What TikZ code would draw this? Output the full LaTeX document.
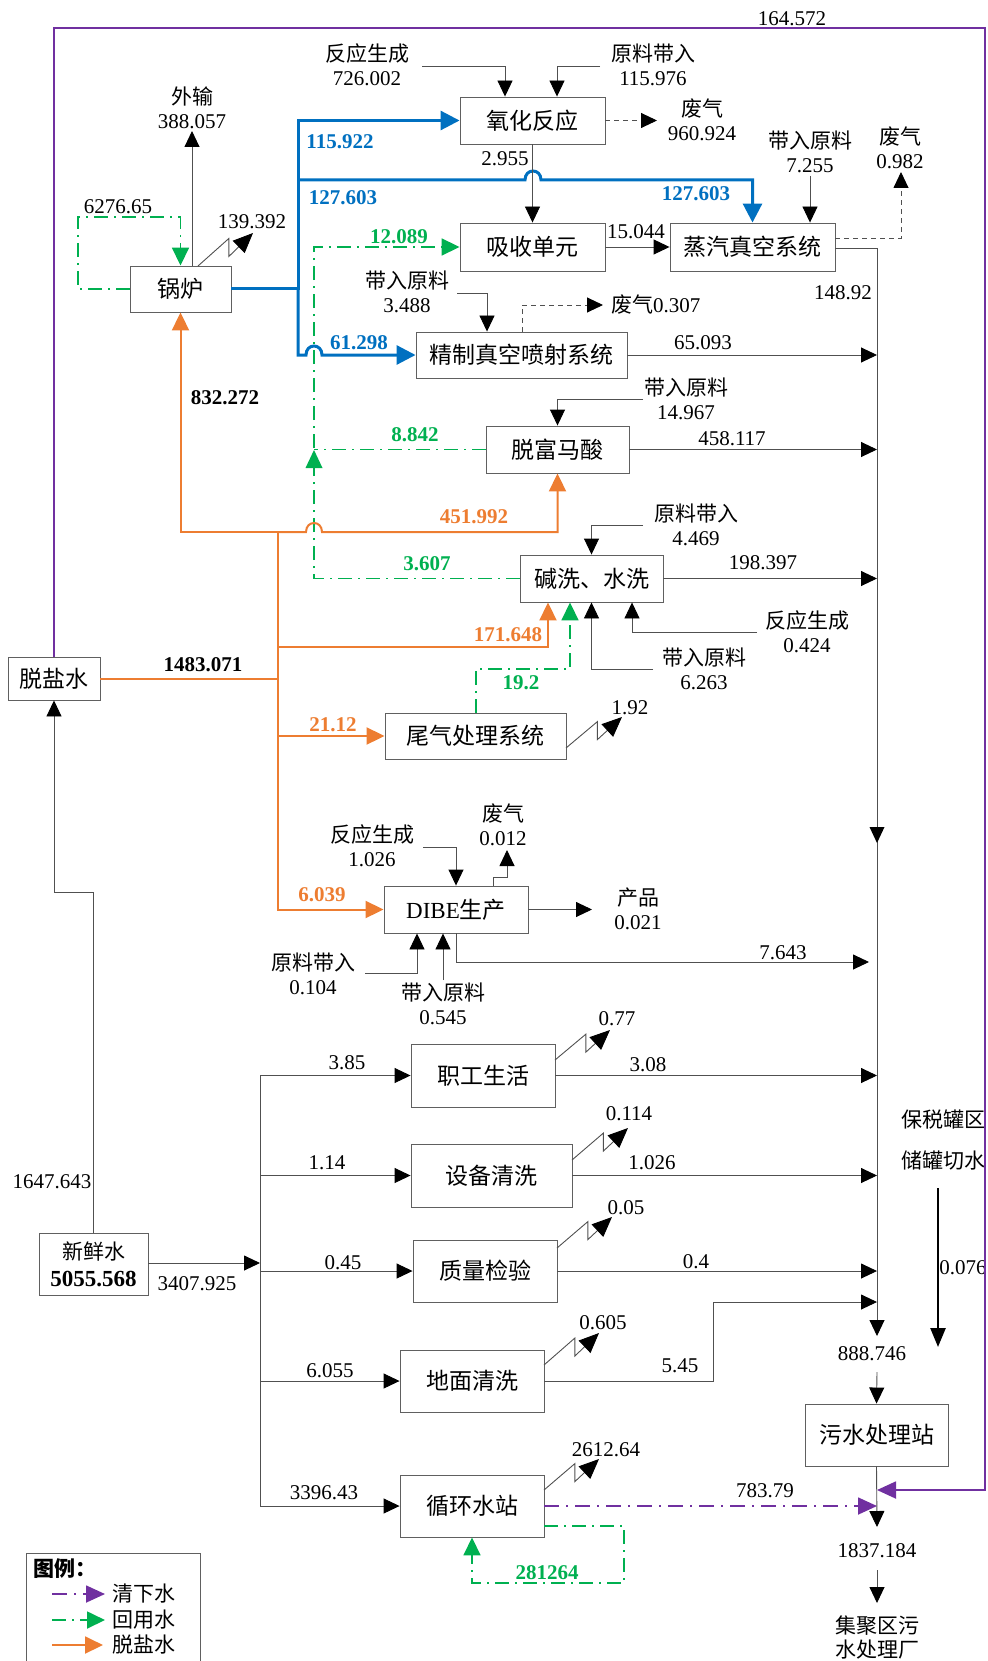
\documentclass[tikz,border=0pt]{standalone}
\usepackage{fontspec}
\setmainfont{Liberation Serif}
\newfontfamily\cjk{Noto Sans CJK SC}
\usetikzlibrary{arrows.meta,calc}
\definecolor{cblue}{HTML}{0070C0}
\definecolor{corange}{HTML}{ED7D31}
\definecolor{cgreen}{HTML}{00B050}
\definecolor{cpurple}{HTML}{7030A0}
\definecolor{linec}{HTML}{505050}
\definecolor{boxc}{HTML}{606060}
\newcommand\zh[1]{{\cjk #1}}
\newcommand\zz[2]{\draw[zig] (#1) -- ($(#1)!0.56!(#2)+(0,-9)$) -- ++(0,18) -- (#2);}
\begin{document}
\begin{tikzpicture}[x=1pt,y=-1pt,
  box/.style={draw=boxc, line width=0.9pt, inner sep=0pt, font=\fontsize{23}{27}\selectfont\cjk},
  lbl/.style={inner sep=0pt, align=center, font=\fontsize{21}{24}\selectfont},
  blab/.style={lbl, text=cblue, font=\fontsize{21}{24}\selectfont\bfseries},
  olab/.style={lbl, text=corange, font=\fontsize{21}{24}\selectfont\bfseries},
  glab/.style={lbl, text=cgreen, font=\fontsize{21}{24}\selectfont\bfseries},
  klab/.style={lbl, font=\fontsize{21}{24}\selectfont\bfseries},
  ln/.style={draw=linec, line width=0.9pt},
  ar/.style={ln, -{Triangle[length=16pt,width=15pt,color=black]}},
  dar/.style={ar, dash pattern=on 5pt off 4pt},
  zig/.style={ln, -{Triangle[length=20pt,width=17pt,color=black]}},
  blu/.style={draw=cblue, line width=3pt},
  bar/.style={blu, -{Triangle[length=19pt,width=19pt]}},
  org/.style={draw=corange, line width=2pt},
  oar/.style={org, -{Triangle[length=18pt,width=17pt]}},
  grn/.style={draw=cgreen, line width=1.8pt, dash pattern=on 14pt off 6pt on 2pt off 6pt},
  gar/.style={grn, -{Triangle[length=18pt,width=17pt]}},
  pur/.style={draw=cpurple, line width=1.8pt},
  par/.style={pur, -{Triangle[length=19pt,width=17pt]}},
  pdar/.style={par, dash pattern=on 15pt off 7pt on 2pt off 7pt},
]
\useasboundingbox (0,0) rectangle (987,1661);

% ---------- boxes ----------
\node[box, minimum width=101pt, minimum height=46pt] (gl) at (180.5,289) {锅炉};
\node[box, minimum width=145pt, minimum height=47pt] (yh) at (532.5,120.5) {氧化反应};
\node[box, minimum width=145pt, minimum height=48pt] (xs) at (532.5,247) {吸收单元};
\node[box, minimum width=165pt, minimum height=48pt] (zq) at (752.5,247) {蒸汽真空系统};
\node[box, minimum width=211pt, minimum height=46pt] (jz) at (521.5,355) {精制真空喷射系统};
\node[box, minimum width=143pt, minimum height=47pt] (tf) at (557.5,449.5) {脱富马酸};
\node[box, minimum width=143pt, minimum height=47pt] (jx) at (591.5,578.5) {碱洗、水洗};
\node[box, minimum width=181pt, minimum height=46pt] (wq) at (475.5,736) {尾气处理系统};
\node[box, minimum width=144pt, minimum height=47pt] (dibe) at (456,909.5) {{\rmfamily DIBE}生产};
\node[box, minimum width=92pt, minimum height=43pt] (tys) at (54,678.5) {脱盐水};
\node[box, minimum width=109pt, minimum height=62pt, align=center] (xxs) at (93.5,1264) {\fontsize{21}{27}\selectfont 新鲜水\\{\rmfamily\bfseries\fontsize{23}{27}\selectfont 5055.568}};
\node[box, minimum width=144pt, minimum height=63pt] (zg) at (483,1075.5) {职工生活};
\node[box, minimum width=161pt, minimum height=63pt] (sb) at (491.5,1175.5) {设备清洗};
\node[box, minimum width=144pt, minimum height=62pt] (zl) at (485,1271) {质量检验};
\node[box, minimum width=144pt, minimum height=62pt] (dm) at (472,1381) {地面清洗};
\node[box, minimum width=144pt, minimum height=62pt] (xh) at (472,1506) {循环水站};
\node[box, minimum width=143pt, minimum height=62pt] (ws) at (876.5,1435) {污水处理站};

% ---------- labels ----------
\node[lbl] (l164) at (792,19) {164.572};
\node[lbl] (l726) at (367,65) {\zh{反应生成}\\726.002};
\node[lbl] (l115976) at (653,65) {\zh{原料带入}\\115.976};
\node[lbl] (lws) at (192,108) {\zh{外输}\\388.057};
\node[lbl] (l6276) at (118,207) {6276.65};
\node[lbl] (l139) at (252,222) {139.392};
\node[blab] (l115922) at (340,142) {115.922};
\node[blab] (l127a) at (343,198) {127.603};
\node[blab] (l127b) at (696,194) {127.603};
\node[lbl] (l2955) at (505,159) {2.955};
\node[lbl] (l960) at (702,120) {\zh{废气}\\960.924};
\node[lbl] (l15044) at (636,232) {15.044};
\node[lbl] (l7255) at (810,152) {\zh{带入原料}\\7.255};
\node[lbl] (l0982) at (900,148) {\zh{废气}\\0.982};
\node[lbl] (l14892) at (843,293) {148.92};
\node[glab] (l12089) at (399,237) {12.089};
\node[lbl] (l3488) at (407,292) {\zh{带入原料}\\3.488};
\node[lbl, anchor=west] (l0307) at (611,305) {\zh{废气}0.307};
\node[blab] (l61298) at (359,343) {61.298};
\node[lbl] (l65093) at (703,343) {65.093};
\node[klab] (l832) at (225,398) {832.272};
\node[lbl] (l14967) at (686,399) {\zh{带入原料}\\14.967};
\node[glab] (l8842) at (415,435) {8.842};
\node[lbl] (l458) at (732,439) {458.117};
\node[olab] (l451) at (474,517) {451.992};
\node[lbl] (l4469) at (696,525) {\zh{原料带入}\\4.469};
\node[glab] (l3607) at (427,564) {3.607};
\node[lbl] (l198) at (763,563) {198.397};
\node[lbl] (l0424) at (807,632) {\zh{反应生成}\\0.424};
\node[olab] (l171) at (508,635) {171.648};
\node[lbl] (l6263) at (704,669) {\zh{带入原料}\\6.263};
\node[klab] (l1483) at (203,665) {1483.071};
\node[glab] (l192) at (521,683) {19.2};
\node[lbl] (l1p92) at (630,708) {1.92};
\node[olab] (l2112) at (333,725) {21.12};
\node[lbl] (l0012) at (503,825) {\zh{废气}\\0.012};
\node[lbl] (l1026) at (372,846) {\zh{反应生成}\\1.026};
\node[olab] (l6039) at (322,895) {6.039};
\node[lbl] (l0021) at (638,909) {\zh{产品}\\0.021};
\node[lbl] (l7643) at (783,953) {7.643};
\node[lbl] (l0104) at (313,974) {\zh{原料带入}\\0.104};
\node[lbl] (l0545) at (443,1004) {\zh{带入原料}\\0.545};
\node[lbl] (l077) at (617,1019) {0.77};
\node[lbl] (l385) at (347,1063) {3.85};
\node[lbl] (l308) at (648,1065) {3.08};
\node[lbl] (l0114) at (629,1114) {0.114};
\node[lbl] (lbs1) at (943,1120) {\zh{保税罐区}};
\node[lbl] (lbs2) at (943,1160) {\zh{储罐切水}};
\node[lbl] (l114) at (327,1163) {1.14};
\node[lbl] (l1026b) at (652,1163) {1.026};
\node[lbl] (l1647) at (52,1182) {1647.643};
\node[lbl] (l005) at (626,1208) {0.05};
\node[lbl] (l045) at (343,1263) {0.45};
\node[lbl] (l04) at (696,1262) {0.4};
\node[lbl] (l0076) at (963,1268) {0.076};
\node[lbl] (l3407) at (197,1284) {3407.925};
\node[lbl] (l0605) at (603,1323) {0.605};
\node[lbl] (l888) at (872,1354) {888.746};
\node[lbl] (l6055) at (330,1371) {6.055};
\node[lbl] (l545) at (680,1366) {5.45};
\node[lbl] (l2612) at (606,1450) {2612.64};
\node[lbl] (l783) at (765,1491) {783.79};
\node[lbl] (l3396) at (324,1493) {3396.43};
\node[lbl] (l1837) at (877,1551) {1837.184};
\node[lbl] (ljj) at (877,1637) {\zh{集聚区污}\\\zh{水处理厂}};
\node[glab] (l281) at (547,1573) {281264};

% ---------- purple frame ----------
\draw[par] (tys.north) -- (54,28) -- (985,28) -- (985,1490) -- (877,1490);

% ---------- blue ----------
\draw[blu] (gl.east) -- (298,289);
\draw[bar] (298,290) -- (298,120.5) -- (yh.west);
\draw[bar] (298,180) -- (525,180) .. controls (525,168) and (541,168) .. (541,180) -| (zq.north);
\draw[bar] (298,288) -- (298,355) -- (306,355) .. controls (306,343) and (322,343) .. (322,355) -- (jz.west);

% ---------- green ----------
\draw[gar] (gl.west) -- (78,289) -- (78,217) -| (gl.north);
\draw[gar] (jx.west) -- (314,578.5) -- (314,247) -- (xs.west);
\fill[cgreen] (314,450) -- (305.5,468) -- (322.5,468) -- cycle;
\draw[grn] (tf.west) -- (314,449.5);
\draw[gar] ([shift={(0.5,0)}]wq.north) -- (476,669) -| ([shift={(-21.5,0)}]jx.south);
\draw[gar] ([shift={(0,20)}]xh.east) -- (624,1526) -- (624,1583) -- (472,1583) -- (xh.south);

% ---------- orange ----------
\draw[org] (tys.east) -- (278,678.5);
\draw[oar] (278,532) -- (278,909.5) -- (dibe.west);
\draw[oar] (279,532) -- (180.5,532) -- (gl.south);
\draw[oar] (277,532) -- (306,532) .. controls (306,520) and (322,520) .. (322,532) -| (tf.south);
\draw[oar] (278,647) -| ([shift={(-43.5,0)}]jx.south);
\draw[oar] (278,736) -- (wq.west);

% ---------- black: top area ----------
\coordinate (a726) at (422,66);
\coordinate (a115) at (600,66);
\draw[ar] (a726) -| ([shift={(-27.5,0)}]yh.north);
\draw[ar] (a115) -| ([shift={(24.5,0)}]yh.north);
\draw[ar] ([shift={(11.5,0)}]gl.north) -- (192,131);
\coordinate (z139a) at (198,266); \coordinate (z139b) at (253,233);
\zz{z139a}{z139b}
\draw[dar] (yh.east) -- (657,120.5);
\draw[ar] (yh.south) -- (xs.north);
\draw[ar] (xs.east) -- (zq.west);
\draw[ar] (810,176) -- ([shift={(57.5,0)}]zq.north);
\draw[dar] ([shift={(0,-9)}]zq.east) -- (901,238) -- (901,172);
\draw[ar] ([shift={(0,1)}]zq.east) -- (877,248) -- (877,1336);
\fill (877,843) -- (869.5,827) -- (884.5,827) -- cycle;

% 精制
\draw[dar] ([shift={(0.5,0)}]jz.north) -- (522,305) -- (603,305);
\draw[ar] (457,293) -| ([shift={(-34.5,0)}]jz.north);
\draw[ar] (jz.east) -- (877,355);
% 脱富马酸
\draw[ar] (643,399) -| (tf.north);
\draw[ar] (tf.east) -- (877,449.5);
% 碱洗
\draw[ar] (643,525) -| (jx.north);
\draw[ar] (jx.east) -- (877,578.5);
\draw[ar] (757,632) -| ([shift={(40.5,0)}]jx.south);
\draw[ar] (653,669) -| (jx.south);
% 尾气
\coordinate (z192a) at (566,748); \coordinate (z192b) at (622,717);
\zz{z192a}{z192b}
% DIBE
\draw[ar] (423,847) -| (dibe.north);
\draw[ar] ([shift={(37,0)}]dibe.north) -- (493,877) -- (507,877) -- (507,850);
\draw[ar] (dibe.east) -- (592,909.5);
\draw[ar] (dibe.south) -- (456,962) -- (869,962);
\draw[ar] (365,973) -| ([shift={(-39,0)}]dibe.south);
\draw[ar] (443,980) -- ([shift={(-13,0)}]dibe.south);

% ---------- fresh water ----------
\draw[ar] (xxs.north) -- (93.5,892) -- (54,892) -- (tys.south);
\draw[ar] ([shift={(0,-1)}]xxs.east) -- (260,1263);
\draw[ln] (260,1075.5) -- (260,1506);
\draw[ar] (260,1075.5) -- (zg.west);
\draw[ar] (260,1175.5) -- (sb.west);
\draw[ar] (260,1271) -- (zl.west);
\draw[ar] (260,1381) -- (dm.west);
\draw[ar] (260,1506) -- (xh.west);

\draw[ar] (zg.east) -- (877,1075.5);
\draw[ar] (sb.east) -- (877,1175.5);
\draw[ar] (zl.east) -- (877,1271);
\draw[ar] (dm.east) -- (713,1381) -- (713,1302) -- (877,1302);
\zz{555,1060}{610,1030}
\zz{572,1160}{628,1128}
\zz{557,1248}{612,1217}
\zz{544,1365}{599,1333}
\zz{544,1490}{599,1459}

\draw[pdar] (xh.east) -- (877,1506);

% ---------- sewage ----------
\draw[ar] (877,1372) -- (ws.north);
\draw[ar] (ws.south) -- (877,1527);
\draw[ar] (877,1570) -- (877,1603);
\coordinate (bs1) at (938,1188); \coordinate (bs2) at (938,1347);
\draw[line width=2.5pt, -{Triangle[length=19pt,width=15pt]}] (bs1) -- (bs2);

% ---------- legend ----------
\draw[draw=boxc, line width=0.9pt] (26,1700) -- (26,1553) -- (200,1553) -- (200,1700);
\node[lbl, anchor=west, font=\fontsize{21}{24}\selectfont\cjk\bfseries] (legt) at (33,1569) {图例：};
\draw[pdar] (52,1594) -- (105,1594);
\node[lbl, anchor=west] (leg1) at (112,1594) {\zh{清下水}};
\draw[gar] (52,1620) -- (105,1620);
\node[lbl, anchor=west] (leg2) at (112,1620) {\zh{回用水}};
\draw[oar] (52,1645) -- (103,1645);
\node[lbl, anchor=west] (leg3) at (112,1645) {\zh{脱盐水}};
\end{tikzpicture}
\end{document}
